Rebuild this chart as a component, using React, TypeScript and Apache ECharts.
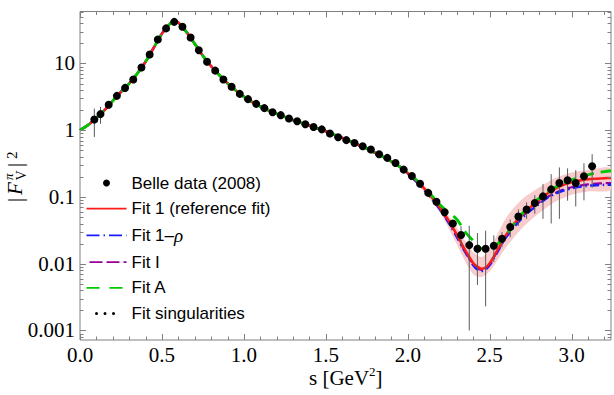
import React, { useEffect, useRef } from 'react';
import * as echarts from 'echarts';

// ---- Belle data (2008): bin centres, values, symmetric errors ----
const belleS = [0.0875, 0.125, 0.175, 0.225, 0.275, 0.325, 0.375, 0.425, 0.475, 0.525, 0.575, 0.625, 0.675, 0.725, 0.775, 0.825, 0.875, 0.925, 0.975, 1.025, 1.075, 1.125, 1.175, 1.225, 1.275, 1.325, 1.375, 1.425, 1.475, 1.525, 1.575, 1.625, 1.675, 1.725, 1.775, 1.825, 1.875, 1.925, 1.975, 2.025, 2.075, 2.125, 2.175, 2.225, 2.275, 2.325, 2.375, 2.425, 2.475, 2.525, 2.575, 2.625, 2.675, 2.725, 2.775, 2.825, 2.875, 2.925, 2.975, 3.025, 3.075, 3.125];
const belleV = [1.45, 1.74, 2.4, 3.27, 4.3, 5.76, 8.7, 13.6, 22.9, 33.5, 42, 35.4, 24.5, 15.8, 10.6, 7.8, 5.76, 4.47, 3.5, 2.92, 2.48, 2.14, 1.86, 1.68, 1.5, 1.36, 1.23, 1.12, 1.03, 0.89, 0.785, 0.71, 0.645, 0.575, 0.513, 0.436, 0.385, 0.323, 0.257, 0.206, 0.158, 0.115, 0.085, 0.059, 0.04, 0.027, 0.019, 0.0168, 0.0168, 0.0186, 0.0237, 0.0355, 0.051, 0.065, 0.081, 0.102, 0.13, 0.162, 0.178, 0.162, 0.204, 0.288];
const belleErr = [0.66, 0.49, 0.12, 0.12, 0.14, 0.17, 0.25, 0.35, 0.5, 0.6, 0.7, 0.6, 0.45, 0.3, 0.2, 0.15, 0.11, 0.09, 0.07, 0.06, 0.05, 0.045, 0.04, 0.04, 0.035, 0.035, 0.03, 0.03, 0.03, 0.025, 0.025, 0.022, 0.02, 0.018, 0.016, 0.015, 0.013, 0.012, 0.01, 0.009, 0.008, 0.007, 0.006, 0.005, 0.004, 0.0095, 0.018, 0.012, 0.0145, 0.008, 0.006, 0.0105, 0.014, 0.018, 0.025, 0.055, 0.09, 0.115, 0.09, 0.09, 0.115, 0.15];

// ---- Fits: common low-s part (all fits coincide) ----
const fitLowS = [0, 0.05, 0.1, 0.15, 0.2, 0.25, 0.3, 0.35, 0.4, 0.45, 0.5, 0.55, 0.575, 0.6, 0.65, 0.7, 0.75, 0.8, 0.85, 0.9, 0.95, 1.0, 1.05, 1.1, 1.15, 1.2, 1.25, 1.3, 1.35, 1.4, 1.45, 1.5, 1.55, 1.6, 1.65, 1.7, 1.75, 1.8, 1.85, 1.9, 1.95];
const fitLowV = [1.0, 1.2, 1.52, 2.0, 2.75, 3.75, 5.0, 7.1, 10.6, 17.2, 28, 39.5, 43, 41, 29.5, 19.7, 13.0, 9.1, 6.7, 5.05, 3.95, 3.18, 2.64, 2.27, 1.98, 1.76, 1.58, 1.42, 1.29, 1.17, 1.06, 0.96, 0.86, 0.77, 0.68, 0.6, 0.53, 0.46, 0.4, 0.34, 0.285];
// ---- Fits: high-s part ----
const fitHighS = [2.0, 2.05, 2.1, 2.15, 2.2, 2.25, 2.3, 2.35, 2.4, 2.425, 2.45, 2.475, 2.5, 2.525, 2.55, 2.6, 2.65, 2.7, 2.75, 2.8, 2.85, 2.9, 2.95, 3.0, 3.05, 3.1, 3.15, 3.2, 3.24];
const fit1V = [0.228, 0.178, 0.134, 0.097, 0.067, 0.044, 0.027, 0.016, 0.0102, 0.009, 0.0084, 0.0088, 0.0102, 0.0128, 0.0165, 0.027, 0.04, 0.055, 0.071, 0.089, 0.112, 0.133, 0.152, 0.166, 0.177, 0.184, 0.188, 0.191, 0.193];
const fit1RhoV = [0.222, 0.172, 0.128, 0.092, 0.063, 0.041, 0.025, 0.015, 0.0095, 0.0082, 0.0078, 0.0082, 0.0096, 0.012, 0.0155, 0.025, 0.036, 0.049, 0.063, 0.078, 0.097, 0.112, 0.125, 0.135, 0.142, 0.147, 0.15, 0.152, 0.153];
const fitIV = [0.224, 0.174, 0.13, 0.094, 0.064, 0.042, 0.026, 0.0155, 0.0098, 0.0085, 0.0081, 0.0085, 0.0099, 0.0124, 0.016, 0.026, 0.038, 0.051, 0.066, 0.082, 0.099, 0.115, 0.129, 0.14, 0.148, 0.154, 0.158, 0.161, 0.162];
const fitAV = [0.232, 0.183, 0.14, 0.103, 0.075, 0.058, 0.046, 0.03, 0.022, 0.019, 0.0168, 0.0166, 0.0172, 0.0185, 0.02, 0.027, 0.04, 0.057, 0.075, 0.095, 0.117, 0.14, 0.162, 0.18, 0.197, 0.215, 0.229, 0.24, 0.247];
const fitSingV = [0.23, 0.18, 0.136, 0.099, 0.069, 0.046, 0.03, 0.02, 0.0145, 0.0132, 0.0125, 0.0128, 0.0138, 0.0155, 0.019, 0.03, 0.044, 0.059, 0.077, 0.097, 0.12, 0.145, 0.17, 0.193, 0.214, 0.234, 0.25, 0.265, 0.275];

// ---- Error band of Fit 1 ----
const bandS = [1.9, 2.0, 2.1, 2.2, 2.3, 2.35, 2.4, 2.45, 2.5, 2.55, 2.6, 2.65, 2.7, 2.8, 2.9, 3.0, 3.1, 3.24];
const bandLo = [0.33, 0.217, 0.121, 0.057, 0.0194, 0.0109, 0.0069, 0.0063, 0.0077, 0.0116, 0.0176, 0.0252, 0.0347, 0.057, 0.085, 0.108, 0.121, 0.127];
const bandHi = [0.35, 0.239, 0.147, 0.077, 0.035, 0.022, 0.0148, 0.0126, 0.0163, 0.0289, 0.0486, 0.07, 0.0935, 0.138, 0.193, 0.232, 0.254, 0.27];

// ---- Axes ----
const X_MIN = 0;
const X_MAX = 3.24;
const Y_MIN = 0.00072;
const Y_MAX = 60;
const xMajorStep = 0.5;
const xMinorTicks = [0, 0.1, 0.2, 0.3, 0.4, 0.5, 0.6, 0.7, 0.8, 0.9, 1.0, 1.1, 1.2, 1.3, 1.4, 1.5, 1.6, 1.7, 1.8, 1.9, 2.0, 2.1, 2.2, 2.3, 2.4, 2.5, 2.6, 2.7, 2.8, 2.9, 3.0, 3.1, 3.2];
const yDecades = [0.0001, 0.001, 0.01, 0.1, 1, 10];
const yMantissas = [1, 2, 3, 4, 5, 6, 7, 8, 9];

const SERIF = '"Liberation Serif", "Times New Roman", serif';
const SANS = '"Liberation Sans", Arial, Helvetica, sans-serif';

const NAME_BELLE = 'Belle data (2008)';
const NAME_FIT1 = 'Fit 1 (reference fit)';
const NAME_FIT1R = 'Fit 1–ρ';
const NAME_FITI = 'Fit I';
const NAME_FITA = 'Fit A';
const NAME_SING = 'Fit singularities';

function fitData(high: number[]) {
  return [
    ...fitLowS.map((s, i) => [s, fitLowV[i]]),
    ...fitHighS.map((s, i) => [s, high[i]]),
  ];
}

function fmtLog(v: number) {
  const e = Math.round(Math.log10(v));
  if (e >= 0) return String(Math.pow(10, e));
  return Math.pow(10, e).toFixed(-e);
}

function txt(text: string, x: number, y: number, size: number, italic = false, align = 'left') {
  return {
    type: 'text', x, y, silent: true,
    style: {
      text, fontFamily: SERIF, fontSize: size, fontStyle: italic ? 'italic' : 'normal', fill: '#000',
      align, textAlign: align, verticalAlign: 'middle', textVerticalAlign: 'middle',
    },
  };
}

export default function App() {
  const ref = useRef<HTMLDivElement>(null);
  useEffect(() => {
    if (!ref.current) return;
    const chart = echarts.init(ref.current, undefined, { renderer: 'svg' });

    const lineSeries = (name: string, data: number[][], color: string, width: number, type: any, z: number) => ({
      type: 'line',
      name,
      data,
      symbol: 'none',
      showSymbol: false,
      smooth: 0.3,
      lineStyle: { color, width, type, cap: 'butt' },
      itemStyle: { color },
      z,
      silent: true,
    });

    const option: any = {
      animation: false,
      grid: {
        left: 80, right: 3, top: 11.5, bottom: 55,
        show: true, borderColor: '#808080', borderWidth: 1,
        containLabel: false, outerBoundsMode: 'none',
      },
      xAxis: {
        type: 'value', min: X_MIN, max: X_MAX, interval: xMajorStep,
        axisLine: { show: false }, axisTick: { show: false }, splitLine: { show: false },
        axisLabel: {
          formatter: (v: number) => v.toFixed(1), showMaxLabel: false, showMinLabel: true,
          fontFamily: SERIF, fontSize: 21, color: '#000', margin: 4,
        },
      },
      yAxis: {
        type: 'log', logBase: 10, min: Y_MIN, max: Y_MAX,
        axisLine: { show: false }, axisTick: { show: false }, splitLine: { show: false },
        axisLabel: {
          formatter: fmtLog, showMinLabel: false, showMaxLabel: false,
          fontFamily: SERIF, fontSize: 21, color: '#000', margin: 5,
        },
      },
      legend: {
        orient: 'vertical', left: 85, top: 174.5, padding: 0,
        itemWidth: 40, itemHeight: 7, itemGap: 8.7, selectedMode: false,
        textStyle: {
          fontFamily: SANS, fontSize: 17, color: '#000', lineHeight: 17,
          rich: {
            n: { fontFamily: SANS, fontSize: 17, color: '#000' },
            g: { fontFamily: SERIF, fontStyle: 'italic', fontSize: 19, color: '#000' },
          },
        },
        formatter: (name: string) => (name === NAME_FIT1R ? '{n|Fit 1–}{g|ρ}' : name),
        lineStyle: { width: 1.7 },
        data: [
          { name: NAME_BELLE, icon: 'circle' },
          { name: NAME_FIT1, itemStyle: { opacity: 0 } },
          { name: NAME_FIT1R, itemStyle: { opacity: 0 }, lineStyle: { type: [13, 4, 1.5, 4] } },
          { name: NAME_FITI, itemStyle: { opacity: 0 }, lineStyle: { type: [13, 4], dashOffset: 14 } },
          { name: NAME_FITA, itemStyle: { opacity: 0 }, lineStyle: { type: [13, 10] } },
          { name: NAME_SING, itemStyle: { opacity: 0 }, lineStyle: { width: 3, type: [0, 8.5, 0, 8.5, 0, 40], dashOffset: 47, cap: 'round' } },
        ],
      },
      graphic: [
        // x-axis title: s [GeV^2]
        txt('s [GeV', 309, 377.5, 21),
        txt('2', 369, 371.5, 13),
        txt(']', 375.5, 377.5, 21),
        // y-axis title: |F_V^pi|^2 (rotated)
        {
          type: 'group', x: 15, y: 200, rotation: Math.PI / 2, silent: true,
          children: [
            txt('|', -2, 0, 21),
            txt('F', 5, 0, 21, true),
            txt('π', 20, -6.5, 13, true),
            txt('V', 19.5, 6, 14),
            txt('|', 33, 0, 21),
            txt('2', 41, -3, 15),
          ],
        },
      ],
      series: [
        {
          type: 'custom', name: 'band', silent: true, clip: true, z: 1,
          data: [[X_MIN, 1]],
          renderItem: (_p: any, api: any) => {
            const pts: number[][] = [];
            bandS.forEach((s, i) => pts.push(api.coord([s, bandHi[i]])));
            for (let i = bandS.length - 1; i >= 0; i--) pts.push(api.coord([bandS[i], bandLo[i]]));
            return { type: 'polygon', shape: { points: pts, smooth: 0.25 }, style: { fill: '#f8cccc' } };
          },
        },
        lineSeries(NAME_FITI, fitData(fitIV), '#990099', 2.2, [9, 4], 2),
        lineSeries(NAME_FIT1R, fitData(fit1RhoV), '#1a1aff', 2.5, [9, 3.5, 1.5, 3.5], 3),
        lineSeries(NAME_FIT1, fitData(fit1V), '#ff1a1a', 2.5, 'solid', 4),
        lineSeries(NAME_FITA, fitData(fitAV), '#00c800', 2.8, [12, 7], 5),
        lineSeries(NAME_SING, fitData(fitSingV), '#000000', 2.4, [0, 6], 6),
        {
          type: 'custom', name: 'errbars', silent: true, z: 7,
          data: belleS.map((s, i) => [s, Math.max(belleV[i] - belleErr[i], Y_MIN), belleV[i] + belleErr[i]]),
          encode: { x: 0, y: [1, 2] },
          renderItem: (_p: any, api: any) => {
            const a = api.coord([api.value(0), api.value(1)]);
            const b = api.coord([api.value(0), api.value(2)]);
            return { type: 'line', shape: { x1: a[0], y1: a[1], x2: b[0], y2: b[1] }, style: { stroke: '#5a5a5a', lineWidth: 1 } };
          },
        },
        {
          type: 'custom', name: 'ticks', silent: true, z: 8,
          data: [[X_MIN, 1]],
          renderItem: (p: any, api: any) => {
            const cs = p.coordSys;
            const left = cs.x, right = cs.x + cs.width, top = cs.y, bottom = cs.y + cs.height;
            const st = { stroke: '#808080', lineWidth: 1 };
            const children: any[] = [];
            xMinorTicks.forEach((t, k) => {
              const px = Math.round(api.coord([t, 1])[0]) + 0.5;
              const len = k % 5 === 0 ? 6 : 3.5;
              children.push({ type: 'line', shape: { x1: px, y1: bottom, x2: px, y2: bottom - len }, style: st });
              children.push({ type: 'line', shape: { x1: px, y1: top, x2: px, y2: top + len }, style: st });
            });
            yDecades.forEach((d) => {
              yMantissas.forEach((m) => {
                const v = m * d;
                if (v < Y_MIN || v > Y_MAX) return;
                const py = Math.round(api.coord([0, v])[1]) + 0.5;
                const len = m === 1 ? 6 : 3.5;
                children.push({ type: 'line', shape: { x1: left, y1: py, x2: left + len, y2: py }, style: st });
                children.push({ type: 'line', shape: { x1: right, y1: py, x2: right - len, y2: py }, style: st });
              });
            });
            return { type: 'group', children };
          },
        },
        {
          type: 'scatter', name: NAME_BELLE, z: 9, silent: true,
          data: belleS.map((s, i) => [s, belleV[i]]),
          symbol: 'circle', symbolSize: 8,
          itemStyle: { color: '#000', opacity: 1 },
        },
      ],
    };

    chart.setOption(option);
    return () => chart.dispose();
  }, []);

  return (
    <div
      ref={ref}
      style={{ position: 'fixed', left: 0, top: 0, width: 614, height: 395, background: '#fff' }}
    />
  );
}
